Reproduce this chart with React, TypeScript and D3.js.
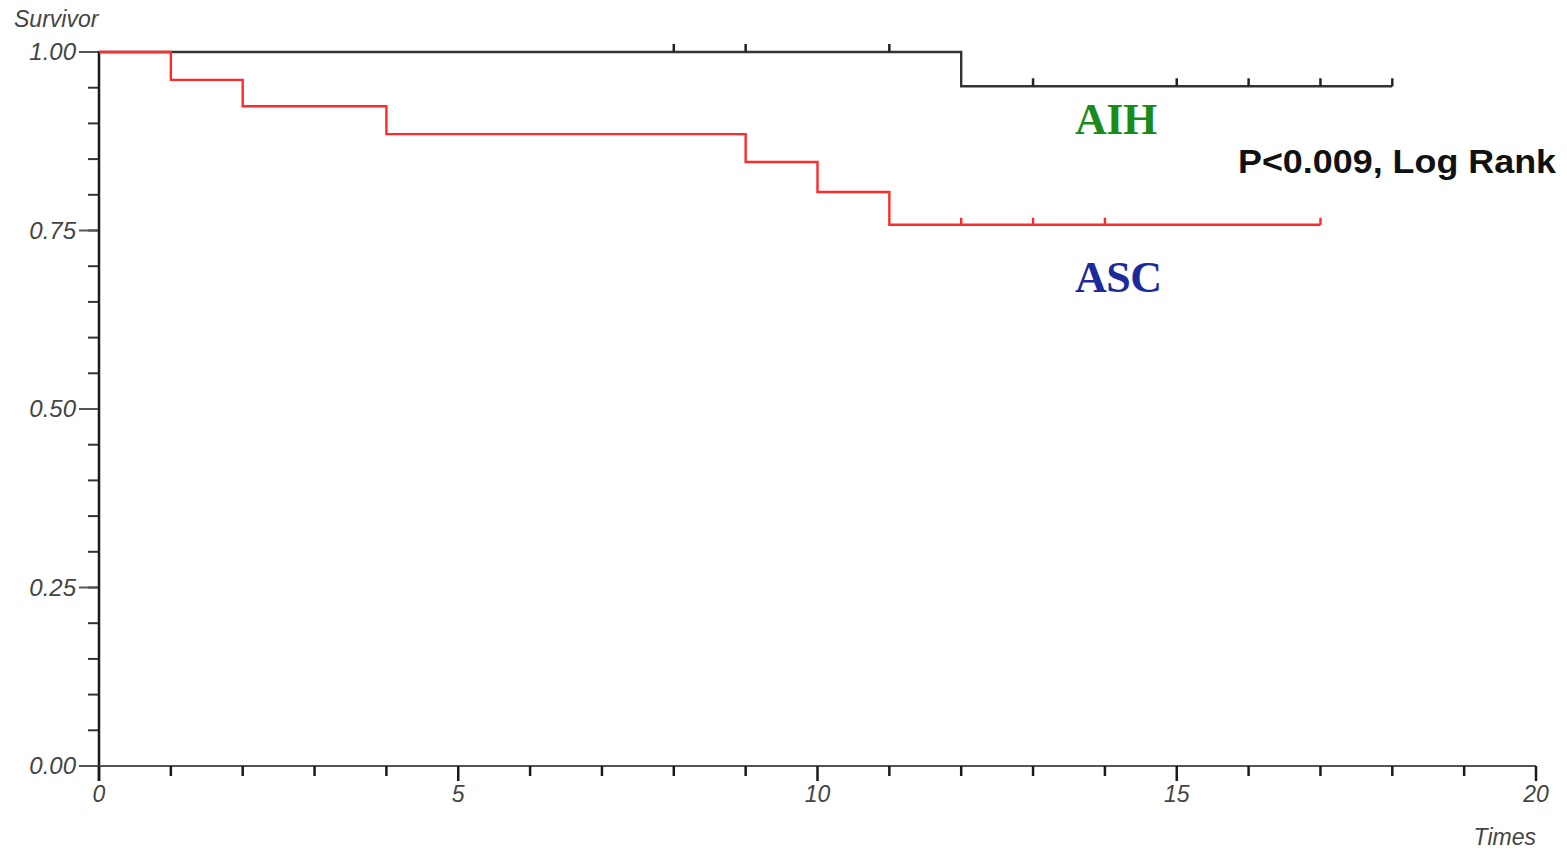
import React from "react";
import * as d3 from "d3";

const ascTimes = [0, 1, 2, 4, 9, 10, 11, 17];
const ascSurv = [1, 0.961, 0.924, 0.885, 0.846, 0.804, 0.758, 0.758];
const ascCensor = [12, 13, 14, 17];

const aihTimes = [0, 12, 18];
const aihSurv = [1, 0.952, 0.952];
const aihCensor = [8, 9, 11, 13, 15, 16, 17, 18];

const xTickLabels = [0, 5, 10, 15, 20];
const yTickLabels = ["0.00", "0.25", "0.50", "0.75", "1.00"];

const W = 1567;
const H = 850;

function survAt(times: number[], surv: number[], t: number) {
  let v = surv[0];
  for (let i = 0; i < times.length; i++) if (times[i] <= t) v = surv[i];
  return v;
}

export default function App() {
  const x = d3.scaleLinear().domain([0, 20]).range([99, 1536]);
  const y = d3.scaleLinear().domain([0, 1]).range([766, 52]);
  const line = d3
    .line<[number, number]>()
    .x((d) => x(d[0]))
    .y((d) => y(d[1]))
    .curve(d3.curveStepAfter);

  const ascPts = ascTimes.map((t, i) => [t, ascSurv[i]] as [number, number]);
  const aihPts = aihTimes.map((t, i) => [t, aihSurv[i]] as [number, number]);

  const xMinor = d3.range(0, 21, 1);
  const yMinor = d3.range(0, 1.0001, 0.05);
  const axisFont = "Liberation Sans, Arial, sans-serif";

  return (
    <svg
      width={W}
      height={H}
      style={{ position: "absolute", left: 0, top: 0, background: "#fff" }}
    >
      {/* Y axis */}
      {yMinor.map((v, i) => (
        <line key={"ym" + i} x1={88} x2={99} y1={y(v)} y2={y(v)} stroke="#333" strokeWidth={2} />
      ))}
      {yTickLabels.map((lab) => (
        <g key={"yt" + lab}>
          <line x1={79} x2={99} y1={y(+lab)} y2={y(+lab)} stroke="#555" strokeWidth={2} />
          <text
            x={76}
            y={y(+lab) + 8}
            textAnchor="end"
            fontSize={24}
            fontStyle="italic"
            fontFamily={axisFont}
            fill="#444"
          >
            {lab}
          </text>
        </g>
      ))}
      <line x1={99} x2={99} y1={51} y2={781} stroke="#1a1a1a" strokeWidth={2.5} />
      <text x={14} y={27} fontSize={23} fontStyle="italic" fontFamily={axisFont} fill="#444">
        Survivor
      </text>

      {/* X axis */}
      <line x1={99} x2={1536} y1={766} y2={766} stroke="#555" strokeWidth={2} />
      {xMinor.map((v) => (
        <line
          key={"xm" + v}
          x1={x(v)}
          x2={x(v)}
          y1={766}
          y2={v % 5 === 0 ? 781 : 776}
          stroke="#1a1a1a"
          strokeWidth={2.5}
        />
      ))}
      {xTickLabels.map((v) => (
        <text
          key={"xl" + v}
          x={x(v)}
          y={802}
          textAnchor="middle"
          fontSize={23}
          fontStyle="italic"
          fontFamily={axisFont}
          fill="#444"
        >
          {v}
        </text>
      ))}
      <text
        x={1536}
        y={845}
        textAnchor="end"
        fontSize={23}
        fontStyle="italic"
        fontFamily={axisFont}
        fill="#444"
      >
        Times
      </text>

      {/* AIH curve */}
      <path d={line(aihPts) || ""} fill="none" stroke="#333" strokeWidth={2.4} />
      {aihCensor.map((t) => (
        <line
          key={"ac" + t}
          x1={x(t)}
          x2={x(t)}
          y1={y(survAt(aihTimes, aihSurv, t))}
          y2={y(survAt(aihTimes, aihSurv, t)) - 8}
          stroke="#222"
          strokeWidth={2.5}
        />
      ))}

      {/* ASC curve */}
      <path d={line(ascPts) || ""} fill="none" stroke="#ff2a2a" strokeWidth={2.4} />
      {ascCensor.map((t) => (
        <line
          key={"sc" + t}
          x1={x(t)}
          x2={x(t)}
          y1={y(survAt(ascTimes, ascSurv, t))}
          y2={y(survAt(ascTimes, ascSurv, t)) - 7}
          stroke="#ff2a2a"
          strokeWidth={2.4}
        />
      ))}

      {/* Labels */}
      <text
        x={1075}
        y={134}
        fontSize={44}
        fontWeight="bold"
        fontFamily="Liberation Serif, Times New Roman, serif"
        fill="#1a8a1a"
        letterSpacing={-0.5}
      >
        AIH
      </text>
      <text
        x={1075}
        y={292}
        fontSize={44}
        fontWeight="bold"
        fontFamily="Liberation Serif, Times New Roman, serif"
        fill="#1c2a9c"
        letterSpacing={-0.5}
      >
        ASC
      </text>
      <text
        x={1238}
        y={173}
        fontSize={34}
        fontWeight="bold"
        fontFamily={axisFont}
        fill="#111"
        textLength={318}
        lengthAdjust="spacingAndGlyphs"
      >
        P&lt;0.009, Log Rank
      </text>
    </svg>
  );
}
